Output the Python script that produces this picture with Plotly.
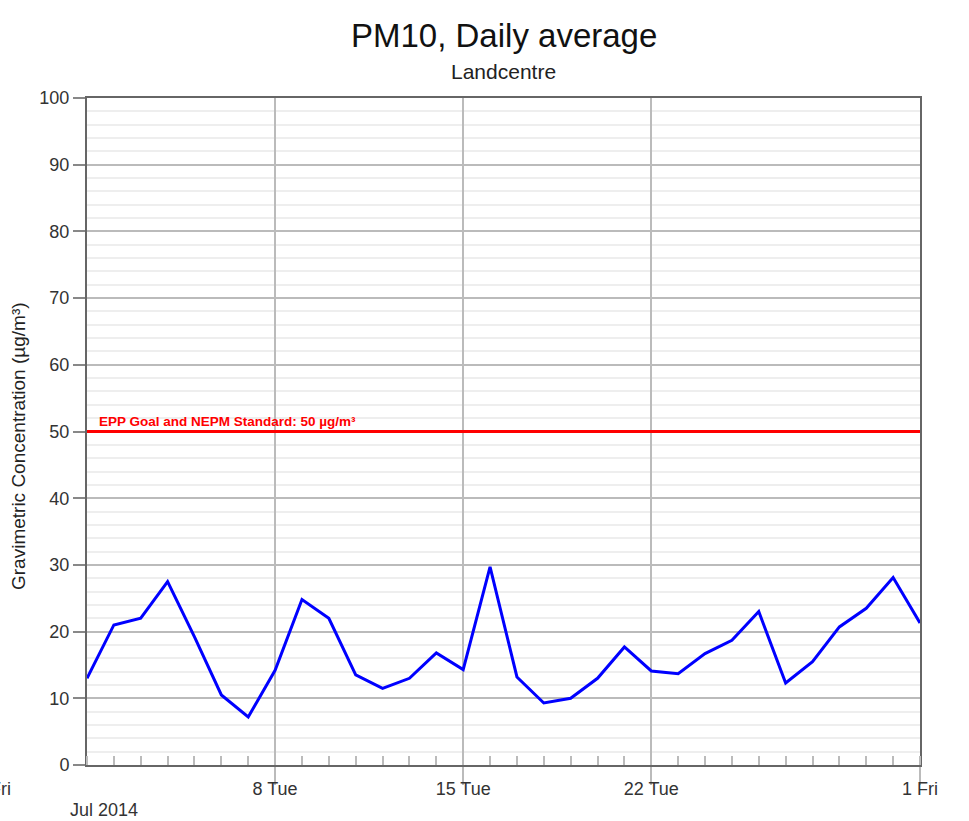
import plotly.graph_objects as go
import pandas as pd

dates = pd.date_range("2014-07-01", "2014-08-01", freq="D")
pm10 = [13.0, 21.0, 22.0, 27.5, 19.2, 10.5, 7.2, 14.2, 24.8, 22.0, 13.5, 11.5,
        13.0, 16.8, 14.3, 29.7, 13.2, 9.3, 10.0, 13.0, 17.7, 14.1, 13.7, 16.7,
        18.7, 23.0, 12.3, 15.5, 20.7, 23.5, 28.1, 21.3]

tick_dates = ["2014-07-08", "2014-07-15", "2014-07-22", "2014-08-01"]
tick_labels = ["8 Tue", "15 Tue", "22 Tue", "1 Fri"]
standard_value = 50
standard_label = "EPP Goal and NEPM Standard: 50 µg/m³"

fig = go.Figure()
fig.add_trace(go.Scatter(x=dates, y=pm10, mode="lines",
                         line=dict(color="#0000ff", width=3), showlegend=False))

fig.add_shape(type="line", xref="paper", x0=0, x1=1, yref="y",
              y0=standard_value, y1=standard_value,
              line=dict(color="#ff0000", width=3))

font = "Liberation Sans, Arial, sans-serif"
fig.update_layout(
    width=969, height=821,
    margin=dict(l=87, r=49, t=98, b=56),
    plot_bgcolor="white", paper_bgcolor="white",
    font=dict(family=font, size=18, color="#333"),
    xaxis=dict(
        range=["2014-07-01", "2014-08-01"],
        tickmode="array", tickvals=tick_dates, ticktext=tick_labels,
        ticks="outside", ticklen=18, tickcolor="#bbb", tickwidth=2,
        ticklabelstandoff=-12,
        showgrid=True, gridcolor="#bbb", gridwidth=2,
        showline=True, linecolor="#666", linewidth=2, mirror=True,
        zeroline=False,
        minor=dict(tickmode="linear", tick0="2014-07-01", dtick=86400000,
                   ticks="inside", ticklen=9, tickcolor="#bbb", tickwidth=2,
                   showgrid=False),
        tickfont=dict(size=18, color="#333"),
    ),
    yaxis=dict(
        range=[0, 100], dtick=10, tick0=0,
        ticks="outside", ticklen=12, tickcolor="#888", tickwidth=2,
        showgrid=True, gridcolor="#bbb", gridwidth=2,
        showline=True, linecolor="#666", linewidth=2, mirror=True,
        zeroline=False,
        minor=dict(dtick=2, showgrid=True, gridcolor="#eeeeee", gridwidth=2,
                   ticks=""),
        tickfont=dict(size=18, color="#333"),
    ),
    annotations=[
        dict(text="PM10, Daily average", xref="paper", yref="paper",
             x=0.5, y=(765 - 36) / 667, xanchor="center", yanchor="middle",
             showarrow=False, font=dict(size=33, color="#111", family=font)),
        dict(text="Landcentre", xref="paper", yref="paper",
             x=0.5, y=(765 - 72) / 667, xanchor="center", yanchor="middle",
             showarrow=False, font=dict(size=21, color="#222", family=font)),
        dict(text="Gravimetric Concentration (µg/m³)", xref="paper", yref="paper",
             x=(18 - 87) / 833, y=(765 - 446) / 667, textangle=-90,
             xanchor="center", yanchor="middle", showarrow=False,
             font=dict(size=19, color="#222", family=font)),
        dict(text="<b>" + standard_label + "</b>", xref="paper", yref="y",
             x=(97 - 87) / 833, y=standard_value, yshift=10,
             xanchor="left", yanchor="middle", showarrow=False,
             font=dict(size=13.5, color="#ff0000", family=font)),
        dict(text="Jul 2014", xref="paper", yref="paper",
             x=(68 - 87) / 833, y=(765 - 810) / 667,
             xanchor="left", yanchor="middle", showarrow=False,
             font=dict(size=18, color="#333", family=font)),
        dict(text="27 Fri", xref="paper", yref="paper",
             x=(13 - 87) / 833, y=(765 - 789) / 667,
             xanchor="right", yanchor="middle", showarrow=False,
             font=dict(size=18, color="#333", family=font)),
    ],
)

fig.write_html("out.html", config={"displayModeBar": False},
               post_script="document.body.style.margin='0';"
                           "document.body.style.overflow='hidden';")
